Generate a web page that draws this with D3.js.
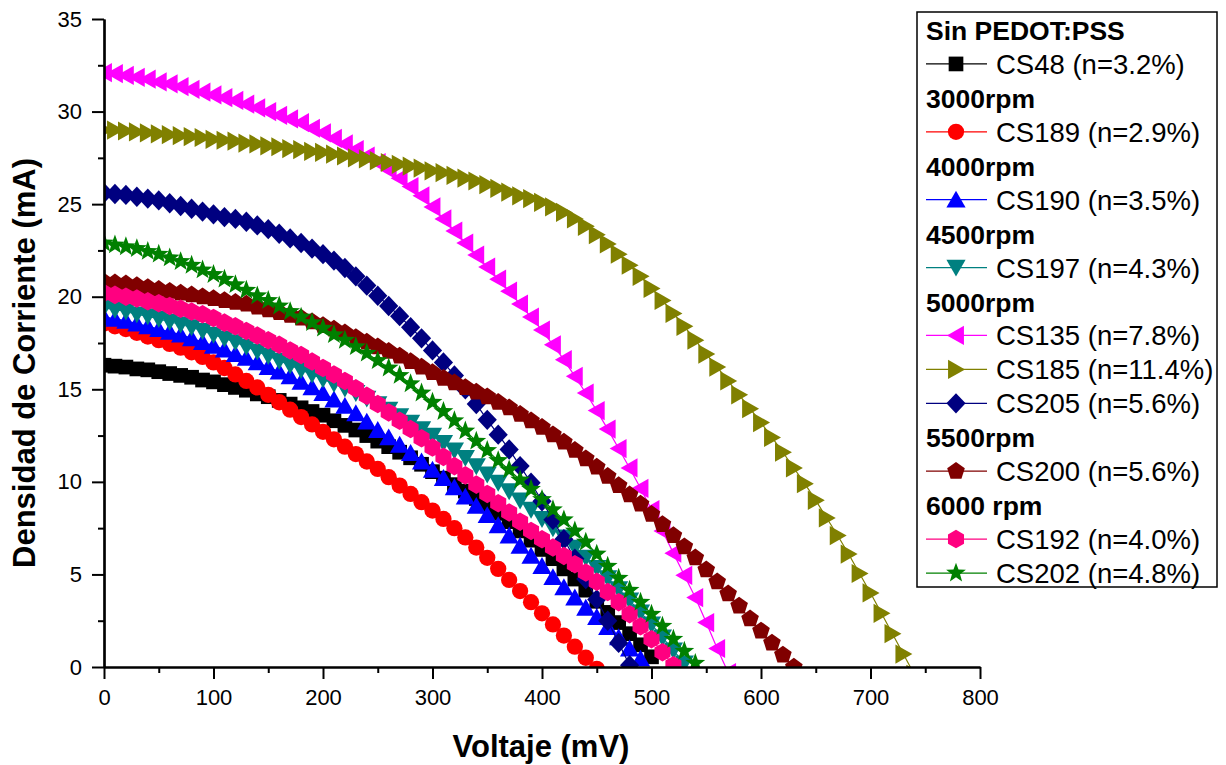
<!DOCTYPE html>
<html>
<head>
<meta charset="utf-8">
<script src="https://cdn.jsdelivr.net/npm/d3@7"></script>
<style>
  html, body { margin: 0; padding: 0; background: #fff; }
  svg { display: block; font-family: "Liberation Sans", Arial, sans-serif; }
</style>
</head>
<body>
<svg id="chart" width="1226" height="765"></svg>
<script>
// Voltage grid (mV) shared by all curves
const voltaje = [0,10,20,30,40,50,60,70,80,90,100,110,120,130,140,150,160,170,180,190,
  200,210,220,230,240,250,260,270,280,290,300,310,320,330,340,350,360,370,380,390,
  400,410,420,430,440,450,460,470,480,490,500,510,520,530,540,550,560,570,580,590,
  600,610,620,630,640,650,660,670,680,690,700,710,720,730,740];

// Current density (mA) per cell, one value per voltage step
const cs48 = [16.3,16.25,16.2,16.1,16.05,15.95,15.85,15.75,15.65,15.5,15.4,15.25,15.1,14.95,14.75,14.6,14.4,14.2,14.0,13.8,
  13.6,13.3,13.05,12.8,12.5,12.2,11.9,11.6,11.3,10.95,10.55,10.2,9.85,9.5,9.1,8.7,8.3,7.85,7.35,6.85,
  6.35,5.85,5.3,4.75,4.15,3.55,2.95,2.4,1.8,1.2,0.55];
const cs189 = [18.55,18.4,18.25,18.05,17.85,17.65,17.45,17.25,17.0,16.75,16.45,16.15,15.8,15.45,15.1,14.7,14.3,13.9,13.5,13.1,
  12.7,12.3,11.9,11.5,11.1,10.7,10.25,9.8,9.35,8.9,8.45,8.0,7.5,7.0,6.45,5.9,5.3,4.7,4.1,3.5,
  2.9,2.3,1.7,1.1,0.5,-0.1];
const cs190 = [18.9,18.8,18.7,18.55,18.4,18.25,18.1,17.95,17.75,17.55,17.35,17.15,16.9,16.7,16.45,16.2,15.95,15.7,15.4,15.1,
  14.8,14.45,14.1,13.7,13.25,12.8,12.4,12.0,11.55,11.1,10.65,10.2,9.7,9.2,8.7,8.2,7.65,7.1,6.55,6.0,
  5.45,4.85,4.3,3.75,3.2,2.7,2.15,1.6,1.0,0.45];
const cs197 = [19.4,19.3,19.2,19.05,18.95,18.8,18.65,18.5,18.35,18.15,17.95,17.75,17.55,17.3,17.05,16.8,16.55,16.3,16.05,15.8,
  15.55,15.3,15.05,14.8,14.5,14.2,13.9,13.55,13.2,12.85,12.5,12.1,11.7,11.3,10.85,10.4,9.95,9.5,9.0,8.5,
  8.0,7.5,7.0,6.45,5.9,5.35,4.8,4.2,3.6,2.95,2.3,1.6,0.9,0.2];
const cs135 = [32.1,32.05,31.95,31.85,31.75,31.6,31.5,31.35,31.2,31.05,30.9,30.75,30.6,30.4,30.2,30.0,29.8,29.6,29.4,29.1,
  28.85,28.55,28.25,27.95,27.6,27.25,26.85,26.4,25.95,25.45,24.85,24.2,23.55,22.9,22.25,21.6,20.95,20.3,19.6,18.9,
  18.2,17.4,16.6,15.7,14.8,13.85,12.85,11.8,10.75,9.65,8.5,7.35,6.15,4.95,3.75,2.4,1.0,-0.3];
const cs185 = [29.0,29.0,28.95,28.9,28.85,28.8,28.75,28.7,28.65,28.6,28.5,28.45,28.4,28.3,28.25,28.15,28.1,28.0,27.95,27.85,
  27.8,27.7,27.6,27.5,27.45,27.35,27.25,27.15,27.05,26.95,26.8,26.7,26.55,26.4,26.25,26.05,25.85,25.65,25.45,25.3,
  25.1,24.85,24.55,24.2,23.8,23.35,22.85,22.3,21.7,21.1,20.45,19.8,19.1,18.4,17.65,16.9,16.2,15.45,14.7,13.95,
  13.2,12.4,11.6,10.75,9.9,9.0,8.05,7.1,6.1,5.05,4.0,2.9,1.8,0.7,-0.4];
const cs205 = [25.6,25.55,25.5,25.4,25.3,25.2,25.05,24.9,24.75,24.6,24.45,24.3,24.2,24.05,23.85,23.65,23.4,23.15,22.9,22.6,
  22.3,21.95,21.55,21.1,20.6,20.05,19.5,18.95,18.35,17.75,17.1,16.45,15.75,15.0,14.2,13.35,12.55,11.75,10.85,9.95,
  8.95,7.95,6.9,5.85,4.75,3.65,2.5,1.3,0.1];
const cs200 = [20.8,20.75,20.7,20.6,20.5,20.4,20.3,20.2,20.1,20.0,19.9,19.8,19.7,19.6,19.45,19.3,19.15,19.0,18.85,18.65,
  18.45,18.25,18.05,17.8,17.55,17.3,17.05,16.8,16.5,16.2,15.9,15.6,15.35,15.1,14.85,14.6,14.3,14.0,13.65,13.3,
  12.95,12.55,12.15,11.7,11.25,10.8,10.3,9.8,9.3,8.8,8.25,7.7,7.1,6.5,5.9,5.25,4.6,3.95,3.3,2.6,
  1.95,1.3,0.65,0.0];
const cs192 = [20.2,20.1,20.0,19.9,19.75,19.65,19.5,19.35,19.2,19.05,18.85,18.6,18.4,18.15,17.9,17.65,17.4,17.1,16.85,16.5,
  16.15,15.8,15.45,15.05,14.65,14.2,13.75,13.3,12.85,12.35,11.85,11.35,10.85,10.35,9.85,9.35,8.85,8.35,7.85,7.35,
  6.9,6.45,6.0,5.55,5.1,4.6,4.05,3.5,2.85,2.2,1.5,0.8,0.1];
const cs202 = [22.9,22.8,22.7,22.6,22.45,22.3,22.1,21.9,21.7,21.45,21.2,20.95,20.65,20.35,20.05,19.8,19.5,19.2,18.9,18.6,
  18.3,17.95,17.65,17.3,16.95,16.55,16.15,15.75,15.3,14.8,14.3,13.8,13.3,12.75,12.2,11.7,11.15,10.65,10.1,9.6,
  9.05,8.5,7.95,7.35,6.75,6.1,5.45,4.8,4.15,3.5,2.85,2.2,1.5,0.85,0.2];

const seriesNames = ["CS48 (n=3.2%)","CS189 (n=2.9%)","CS190 (n=3.5%)","CS197 (n=4.3%)","CS135 (n=7.8%)",
  "CS185 (n=11.4%)","CS205 (n=5.6%)","CS200 (n=5.6%)","CS192 (n=4.0%)","CS202 (n=4.8%)"];
const seriesValues = [cs48, cs189, cs190, cs197, cs135, cs185, cs205, cs200, cs192, cs202];
const groupHeaders = ["Sin PEDOT:PSS","3000rpm","4000rpm","4500rpm","5000rpm","5500rpm","6000 rpm"];
const xTicks = [0,100,200,300,400,500,600,700,800];
const xMinor = [50,150,250,350,450,550,650,750];
const yTicks = [0,5,10,15,20,25,30,35];
const yMinor = [2.5,7.5,12.5,17.5,22.5,27.5,32.5];

// Drawing styles, in series order
const styles = [
  {color:"#000000", shape:"square"},
  {color:"#ff0000", shape:"circle"},
  {color:"#0000ff", shape:"triUp"},
  {color:"#008080", shape:"triDown"},
  {color:"#ff00ff", shape:"triLeft"},
  {color:"#808000", shape:"triRight"},
  {color:"#000080", shape:"diamond"},
  {color:"#800000", shape:"pentagon"},
  {color:"#ff0080", shape:"hexagon"},
  {color:"#008000", shape:"star"}
];
const markerScale = 1.13;

// Legend layout: group header (h) or series (s) per row
const legendRows = [
  {h:0},{s:0},{h:1},{s:1},{h:2},{s:2},{h:3},{s:3},{h:4},{s:4},{s:5},{s:6},{h:5},{s:7},{h:6},{s:8},{s:9}
];

function polygon(n, r, rot) {
  const pts = [];
  for (let i = 0; i < n; i++) {
    const a = rot + i * 2 * Math.PI / n;
    pts.push([r * Math.cos(a), r * Math.sin(a)]);
  }
  return "M" + pts.map(p => p[0].toFixed(2) + "," + p[1].toFixed(2)).join("L") + "Z";
}
function markerPath(shape) {
  switch (shape) {
    case "square": return "M-6.5,-6.5L6.5,-6.5L6.5,6.5L-6.5,6.5Z";
    case "circle": return "M-7.2,0A7.2,7.2 0 1,0 7.2,0A7.2,7.2 0 1,0 -7.2,0Z";
    case "triUp": return "M0,-8L8.5,7L-8.5,7Z";
    case "triDown": return "M0,8L8.5,-7L-8.5,-7Z";
    case "triLeft": return "M-8,0L7,-8.5L7,8.5Z";
    case "triRight": return "M8,0L-7,-8.5L-7,8.5Z";
    case "diamond": return "M0,-9L8.5,0L0,9L-8.5,0Z";
    case "pentagon": return polygon(5, 8.2, -Math.PI / 2);
    case "hexagon": return polygon(6, 8.2, -Math.PI / 2);
    case "star": {
      const pts = [];
      for (let i = 0; i < 10; i++) {
        const r = i % 2 === 0 ? 9.2 : 3.8;
        const a = -Math.PI / 2 + i * Math.PI / 5;
        pts.push([r * Math.cos(a), r * Math.sin(a)]);
      }
      return "M" + pts.map(p => p[0].toFixed(2) + "," + p[1].toFixed(2)).join("L") + "Z";
    }
  }
}

const svg = d3.select("#chart");
const x = d3.scaleLinear().domain([0, 800]).range([104, 980]);
const y = d3.scaleLinear().domain([0, 35]).range([667, 19]);

// Clip region for the curves
svg.append("defs").append("clipPath").attr("id", "plotClip")
  .append("rect").attr("x", x(0)).attr("y", 0).attr("width", x(800) - x(0)).attr("height", y(0));

const plot = svg.append("g").attr("clip-path", "url(#plotClip)");
const line = d3.line().x(d => x(d[0])).y(d => y(d[1]));

seriesValues.forEach((vals, i) => {
  const pts = vals.map((v, k) => [voltaje[k], v]);
  const st = styles[i];
  const g = plot.append("g");
  g.append("path").attr("d", line(pts)).attr("fill", "none")
    .attr("stroke", st.color).attr("stroke-width", 1.2);
  g.selectAll("path.m").data(pts).enter().append("path").attr("class", "m")
    .attr("d", markerPath(st.shape))
    .attr("transform", d => `translate(${x(d[0])},${y(d[1])}) scale(${markerScale})`)
    .attr("fill", st.color);
});

// Axes
const axisStyle = g => {
  g.selectAll("path.domain").attr("stroke", "#000").attr("stroke-width", 2.2);
  g.selectAll(".tick line").attr("stroke", "#000").attr("stroke-width", 2);
  g.selectAll(".tick text").attr("fill", "#000").attr("font-size", 22)
    .attr("font-family", "'Liberation Sans', Arial, sans-serif");
};
svg.append("g").attr("transform", `translate(0,${y(0)})`)
  .call(d3.axisBottom(x).tickValues(xMinor).tickSize(6).tickSizeOuter(0).tickFormat(""))
  .call(axisStyle);
svg.append("g").attr("transform", `translate(${x(0)},0)`)
  .call(d3.axisLeft(y).tickValues(yMinor).tickSize(6).tickSizeOuter(0).tickFormat(""))
  .call(axisStyle);
svg.append("g").attr("transform", `translate(0,${y(0)})`)
  .call(d3.axisBottom(x).tickValues(xTicks).tickSize(12).tickPadding(10).tickSizeOuter(0).tickFormat(d3.format("d")))
  .call(axisStyle);
svg.append("g").attr("transform", `translate(${x(0)},0)`)
  .call(d3.axisLeft(y).tickValues(yTicks).tickSize(12).tickPadding(10).tickSizeOuter(0).tickFormat(d3.format("d")))
  .call(axisStyle);

// Axis titles
svg.append("text").attr("x", 541).attr("y", 757).attr("text-anchor", "middle")
  .attr("font-size", 31).attr("font-weight", "bold").text("Voltaje (mV)");
svg.append("text").attr("transform", "translate(35,363) rotate(-90)").attr("text-anchor", "middle")
  .attr("font-size", 31).attr("font-weight", "bold").text("Densidad de Corriente (mA)");

// Legend
const lg = svg.append("g");
lg.append("rect").attr("x", 917).attr("y", 12).attr("width", 300).attr("height", 575)
  .attr("fill", "#fff").attr("stroke", "#000").attr("stroke-width", 1.5);
legendRows.forEach((row, i) => {
  const base = 40 + i * 33.94;
  if (row.h !== undefined) {
    lg.append("text").attr("x", 926).attr("y", base).attr("font-size", 26.5)
      .attr("font-weight", "bold").text(groupHeaders[row.h]);
  } else {
    const st = styles[row.s];
    const cy = base - 10;
    lg.append("line").attr("x1", 926).attr("x2", 987).attr("y1", cy).attr("y2", cy)
      .attr("stroke", st.color).attr("stroke-width", 1.2);
    lg.append("path").attr("d", markerPath(st.shape))
      .attr("transform", `translate(956,${cy}) scale(${markerScale})`).attr("fill", st.color);
    lg.append("text").attr("x", 996).attr("y", base).attr("font-size", 27.5)
      .text(seriesNames[row.s]);
  }
});
</script>
</body>
</html>
